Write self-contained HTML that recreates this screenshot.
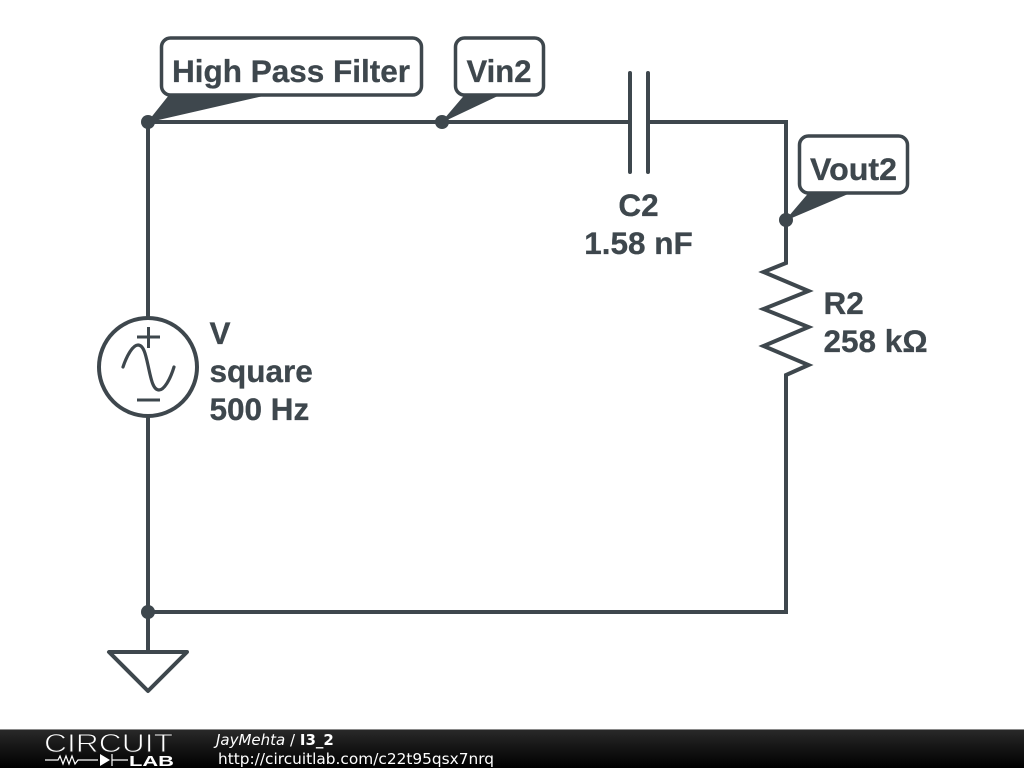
<!DOCTYPE html>
<html>
<head>
<meta charset="utf-8">
<style>
html,body{margin:0;padding:0;background:#fff;width:1024px;height:768px;overflow:hidden}
svg{display:block}
.l{font-family:"Liberation Sans",sans-serif;font-weight:700;font-size:31.500px;fill:#3e474d;stroke:#3e474d;stroke-width:.3}
.w{fill:none;stroke:#3e474d;stroke-width:4;stroke-linejoin:miter;stroke-linecap:butt}
.r{stroke-linecap:round;stroke-linejoin:round}
.b{fill:#fff;stroke:#3e474d;stroke-width:3.5}
.f{font-family:"DejaVu Sans",sans-serif;fill:#fff;font-size:15px}
</style>
</head>
<body>
<svg width="1024" height="768" viewBox="0 0 1024 768" xmlns="http://www.w3.org/2000/svg">
<defs>
<linearGradient id="g" x1="0" y1="0" x2="0" y2="1">
<stop offset="0" stop-color="#2a2a2a"/>
<stop offset="0.5" stop-color="#141414"/>
<stop offset="1" stop-color="#000"/>
</linearGradient>
</defs>
<rect width="1024" height="768" fill="#fff"/>

<path class="w" d="M148 318V122H630M648 122H786V263L763.500 272L808.500 291L763.500 309L808.500 327L763.500 346L808.500 365L786 375V612H148M148 416V652"/>
<path class="w r" d="M630 73V172M648 73V172"/>
<path class="w r" d="M109 652H187L148 691Z"/>

<circle cx="148" cy="367" r="49" class="w"/>
<path class="w" style="stroke-width:3" d="M137 337H160M148.500 327V348M137 400H160"/>
<path class="w r" style="stroke-width:3.2" d="M123 367C127 355 133 345 138 345C144 345 146 356 148.500 367.500C151 379 153 390 159 390C164 390 170 380 174 367"/>

<circle cx="148" cy="122" r="7" fill="#3e474d"/>
<circle cx="148" cy="612" r="7" fill="#3e474d"/>
<circle cx="442" cy="122" r="7" fill="#3e474d"/>
<circle cx="786" cy="220" r="7" fill="#3e474d"/>

<path d="M148 122L169.500 95H266Z" fill="#3e474d" stroke="#3e474d" stroke-width="0.8"/>
<path d="M442 122L465 95H499Z" fill="#3e474d" stroke="#3e474d" stroke-width="0.8"/>
<path d="M786 220L809 193H849.500Z" fill="#3e474d" stroke="#3e474d" stroke-width="0.8"/>

<rect x="161.500" y="38" width="260" height="57" rx="9" class="b"/>
<rect x="455.500" y="38" width="88" height="57" rx="9" class="b"/>
<rect x="799.500" y="136" width="108" height="57" rx="9" class="b"/>

<text class="l" x="172" y="82" textLength="238" lengthAdjust="spacingAndGlyphs">High Pass Filter</text>
<text class="l" x="466.500" y="82" textLength="65" lengthAdjust="spacingAndGlyphs">Vin2</text>
<text class="l" x="810" y="180" textLength="87" lengthAdjust="spacingAndGlyphs">Vout2</text>
<text class="l" x="638.500" y="216" text-anchor="middle">C2</text>
<text class="l" x="638.500" y="254" text-anchor="middle">1.58 nF</text>
<text class="l" x="823.500" y="314">R2</text>
<text class="l" x="823.500" y="352">258 kΩ</text>
<text class="l" x="209.500" y="344">V</text>
<text class="l" x="209.500" y="382">square</text>
<text class="l" x="209.500" y="420">500 Hz</text>

<rect x="0" y="729" width="1024" height="39" fill="url(#g)"/>
<rect x="0" y="729" width="1024" height="1" fill="#8a8a8a"/>
<text x="44" y="752" font-family="'Liberation Sans',sans-serif" font-size="26" fill="#fff" stroke="#1e1e1e" stroke-width="0.9" textLength="129" lengthAdjust="spacingAndGlyphs">CIRCUIT</text>
<path d="M45 760H58L60 756L63 764L66 756L69 764L72 756L75 764L78 760H98M112 754V766M112 760H128" fill="none" stroke="#fff" stroke-width="1.200"/>
<path d="M100 754L110 760L100 766Z" fill="#fff"/>
<text x="129" y="766" font-family="'Liberation Sans',sans-serif" font-weight="700" font-size="15" fill="#fff" textLength="45" lengthAdjust="spacingAndGlyphs">LAB</text>
<text class="f" x="216" y="745" font-style="italic" font-size="14.500">JayMehta <tspan font-style="normal">/</tspan> <tspan font-style="normal" font-weight="700">I3_2</tspan></text>
<text class="f" x="218" y="764" textLength="276" lengthAdjust="spacingAndGlyphs">http://circuitlab.com/c22t95qsx7nrq</text>
</svg>
</body>
</html>
